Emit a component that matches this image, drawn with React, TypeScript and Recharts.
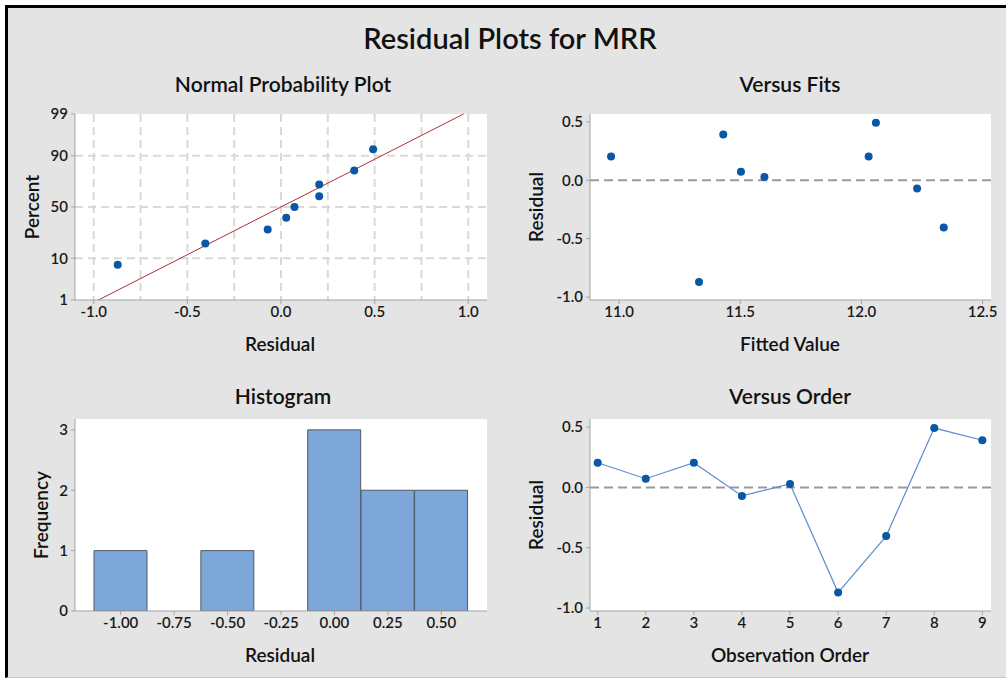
import React from 'react';
import {
  ScatterChart, Scatter, XAxis, YAxis, CartesianGrid, ReferenceLine, ReferenceArea,
  BarChart, Bar, LineChart, Line,
} from 'recharts';

// residuals in observation order
const observation = [1, 2, 3, 4, 5, 6, 7, 8, 9];
const residuals = [0.204, 0.072, 0.204, -0.071, 0.028, -0.872, -0.404, 0.492, 0.391];
const fittedValues = [10.967, 11.503, 12.03, 12.23, 11.6, 11.33, 12.34, 12.06, 11.43];

// normal probability plot
const percentRanks = [7.4, 18.1, 28.7, 39.4, 50, 60.6, 71.3, 81.9, 92.6];
const percentTicks = [1, 10, 50, 90, 99];
const percentGrid = [10, 50, 90];
const residualGrid = [-1, -0.75, -0.5, -0.25, 0, 0.25, 0.5, 0.75, 1];
const residualTicks = [-1, -0.5, 0, 0.5, 1];
const fitMean = 0;
const fitSd = 0.419;

// histogram
const binLabels = ['-1.00', '-0.75', '-0.50', '-0.25', '0.00', '0.25', '0.50'];
const binCounts = [1, 0, 1, 0, 3, 2, 2];

const residTicks = [-1, -0.5, 0, 0.5];
const fitTicks = [11, 11.5, 12, 12.5];

const FONT = 'Lato, "Noto Sans", sans-serif';
const BLUE = '#0a57a6';
const AXIS = '#a3a3a3';
const GRID = '#d9d9d9';

function normInv(p: number): number {
  const a = [-39.69683028665376, 220.9460984245205, -275.9285104469687, 138.357751867269, -30.66479806614716, 2.506628277459239];
  const b = [-54.47609879822406, 161.5858368580409, -155.6989798598866, 66.80131188771972, -13.28068155288572];
  const c = [-0.007784894002430293, -0.3223964580411365, -2.400758277161838, -2.549732539343734, 4.374664141464968, 2.938163982698783];
  const d = [0.007784695709041462, 0.3224671290700398, 2.445134137142996, 3.754408661907416];
  const pl = 0.02425;
  if (p < pl) {
    const q = Math.sqrt(-2 * Math.log(p));
    return (((((c[0] * q + c[1]) * q + c[2]) * q + c[3]) * q + c[4]) * q + c[5]) / ((((d[0] * q + d[1]) * q + d[2]) * q + d[3]) * q + 1);
  }
  if (p > 1 - pl) {
    const q = Math.sqrt(-2 * Math.log(1 - p));
    return -(((((c[0] * q + c[1]) * q + c[2]) * q + c[3]) * q + c[4]) * q + c[5]) / ((((d[0] * q + d[1]) * q + d[2]) * q + d[3]) * q + 1);
  }
  const q = p - 0.5;
  const r = q * q;
  return (((((a[0] * r + a[1]) * r + a[2]) * r + a[3]) * r + a[4]) * r + a[5]) * q /
    (((((b[0] * r + b[1]) * r + b[2]) * r + b[3]) * r + b[4]) * r + 1);
}

const zTicks = percentTicks.map(p => normInv(p / 100));
const zGrid = percentGrid.map(p => normInv(p / 100));
const zMin = zTicks[0];
const zMax = zTicks[zTicks.length - 1];

const sortedResiduals = [...residuals].sort((a, b) => a - b);
const probData = sortedResiduals.map((r, i) => ({ x: r, z: normInv(percentRanks[i] / 100) }));
const fitsData = fittedValues.map((f, i) => ({ fit: f, res: residuals[i] }));
const orderData = observation.map((o, i) => ({ obs: o, res: residuals[i] }));
const histData = binLabels.map((b, i) => ({ bin: b, count: binCounts[i] }));

const tickStyle = { fontSize: 15, fontWeight: 600, fill: '#1a1a1a', fontFamily: FONT };
const Y_W = 50;

// plot boxes in page coords
const box = (x0: number, y0: number, x1: number, y1: number) => ({
  left: x0 - 60, top: y0 - 10, width: x1 - x0 + 75, height: y1 - y0 + 40,
});
const MARGIN = { top: 10, right: 15, bottom: 0, left: 60 - Y_W };

const Dot = (p: any) => <circle cx={p.cx} cy={p.cy} r={4} fill={BLUE} />;

const Txt = ({ x, y, size, children, rotate, weight = 600 }: any) => (
  <div style={{
    position: 'absolute', left: x, top: y, whiteSpace: 'nowrap',
    transform: `translate(-50%, -50%)${rotate ? ' rotate(-90deg)' : ''}`,
    fontSize: size, fontWeight: weight, fontFamily: FONT, color: '#111', lineHeight: 1,
  }}>{children}</div>
);

const Frame = () => <ReferenceArea fill="none" stroke={AXIS} strokeWidth={1} ifOverflow="visible" />;

export default function App() {
  const a = box(75, 114, 487, 300);
  const b = box(590, 114, 991, 300);
  const c = box(75, 419, 487, 611);
  const d = box(590, 419, 991, 611);
  return (
    <div style={{ position: 'relative', width: 1006, height: 680, background: '#fff', overflow: 'hidden' }}>
      <style>{'body{margin:0}'}</style>
      <div style={{
        position: 'absolute', left: 5, top: 5, width: 1010, height: 669,
        background: '#e4e4e4', borderTop: '3px solid #000', borderLeft: '3px solid #000',
        borderBottom: '1px solid #c4c4c4',
      }} />

      <Txt x={510} y={37} size={29}>Residual Plots for MRR</Txt>

      <Txt x={283} y={83} size={21}>Normal Probability Plot</Txt>
      <Txt x={790} y={83} size={21}>Versus Fits</Txt>
      <Txt x={283} y={395} size={21}>Histogram</Txt>
      <Txt x={790} y={395} size={21}>Versus Order</Txt>

      <Txt x={31} y={207} size={19} rotate>Percent</Txt>
      <Txt x={280} y={343} size={19}>Residual</Txt>
      <Txt x={535} y={207} size={19} rotate>Residual</Txt>
      <Txt x={790} y={343} size={19}>Fitted Value</Txt>
      <Txt x={40} y={515} size={19} rotate>Frequency</Txt>
      <Txt x={280} y={654} size={19}>Residual</Txt>
      <Txt x={535} y={515} size={19} rotate>Residual</Txt>
      <Txt x={790} y={654} size={19}>Observation Order</Txt>

      <div style={{ position: 'absolute', left: a.left, top: a.top }}>
        <ScatterChart width={a.width} height={a.height} margin={MARGIN}>
          <CartesianGrid fill="#fff" stroke={GRID} strokeWidth={2} strokeDasharray="8 5"
            verticalValues={residualGrid} horizontalValues={zGrid} />
          <XAxis type="number" dataKey="x" domain={[-1.1, 1.1]} ticks={residualTicks} allowDataOverflow
            tickFormatter={(v: number) => v.toFixed(1)} tick={tickStyle} stroke={AXIS} tickSize={4} tickMargin={2} height={30} />
          <YAxis type="number" dataKey="z" domain={[zMin, zMax]} ticks={zTicks} allowDataOverflow width={Y_W}
            tickFormatter={(v: number) => {
              const i = zTicks.findIndex(t => Math.abs(t - v) < 1e-6);
              return i >= 0 ? String(percentTicks[i]) : '';
            }}
            tick={tickStyle} stroke={AXIS} tickSize={4} tickMargin={3} />
          <ReferenceLine ifOverflow="visible" stroke="#ad3033" strokeWidth={1}
            segment={[{ x: fitMean + fitSd * zMin, y: zMin }, { x: fitMean + fitSd * zMax, y: zMax }]} />
          <Scatter data={probData} shape={Dot} isAnimationActive={false} />
          <Frame />
        </ScatterChart>
      </div>

      <div style={{ position: 'absolute', left: b.left, top: b.top }}>
        <ScatterChart width={b.width} height={b.height} margin={MARGIN}>
          <CartesianGrid fill="#fff" horizontal={false} vertical={false} />
          <XAxis type="number" dataKey="fit" domain={[10.88, 12.535]} ticks={fitTicks} allowDataOverflow
            tickFormatter={(v: number) => v.toFixed(1)} tick={tickStyle} stroke={AXIS} tickSize={4} tickMargin={2} height={30} />
          <YAxis type="number" dataKey="res" domain={[-1.025, 0.567]} ticks={residTicks} allowDataOverflow width={Y_W}
            tickFormatter={(v: number) => v.toFixed(1)} tick={tickStyle} stroke={AXIS} tickSize={4} tickMargin={3} />
          <ReferenceLine y={0} stroke="#9a9a9a" strokeWidth={2} strokeDasharray="9 5" />
          <Scatter data={fitsData} shape={Dot} isAnimationActive={false} />
          <Frame />
        </ScatterChart>
      </div>

      <div style={{ position: 'absolute', left: c.left, top: c.top }}>
        <BarChart width={c.width} height={c.height} margin={MARGIN} data={histData} barCategoryGap={0} barGap={0}>
          <CartesianGrid fill="#fff" horizontal={false} vertical={false} />
          <XAxis dataKey="bin" padding={{ left: 19, right: 19 }} tick={tickStyle} stroke={AXIS}
            tickSize={4} tickMargin={2} height={30} interval={0} />
          <YAxis type="number" domain={[0, 3.18]} ticks={[0, 1, 2, 3]} allowDataOverflow width={Y_W}
            tick={tickStyle} stroke={AXIS} tickSize={4} tickMargin={3} />
          <Bar dataKey="count" fill="#7da7d9" stroke="#505a66" strokeWidth={1} isAnimationActive={false} />
          <Frame />
        </BarChart>
      </div>

      <div style={{ position: 'absolute', left: d.left, top: d.top }}>
        <LineChart width={d.width} height={d.height} margin={MARGIN} data={orderData}>
          <CartesianGrid fill="#fff" horizontal={false} vertical={false} />
          <XAxis type="number" dataKey="obs" domain={[0.84, 9.18]} ticks={observation} allowDataOverflow
            tick={tickStyle} stroke={AXIS} tickSize={4} tickMargin={2} height={30} />
          <YAxis type="number" domain={[-1.025, 0.567]} ticks={residTicks} allowDataOverflow width={Y_W}
            tickFormatter={(v: number) => v.toFixed(1)} tick={tickStyle} stroke={AXIS} tickSize={4} tickMargin={3} />
          <ReferenceLine y={0} stroke="#9a9a9a" strokeWidth={2} strokeDasharray="9 5" />
          <Line type="linear" dataKey="res" stroke="#5b8dcf" strokeWidth={1.2}
            dot={{ r: 4, fill: BLUE, stroke: 'none' }} activeDot={false} isAnimationActive={false} />
          <Frame />
        </LineChart>
      </div>
    </div>
  );
}
